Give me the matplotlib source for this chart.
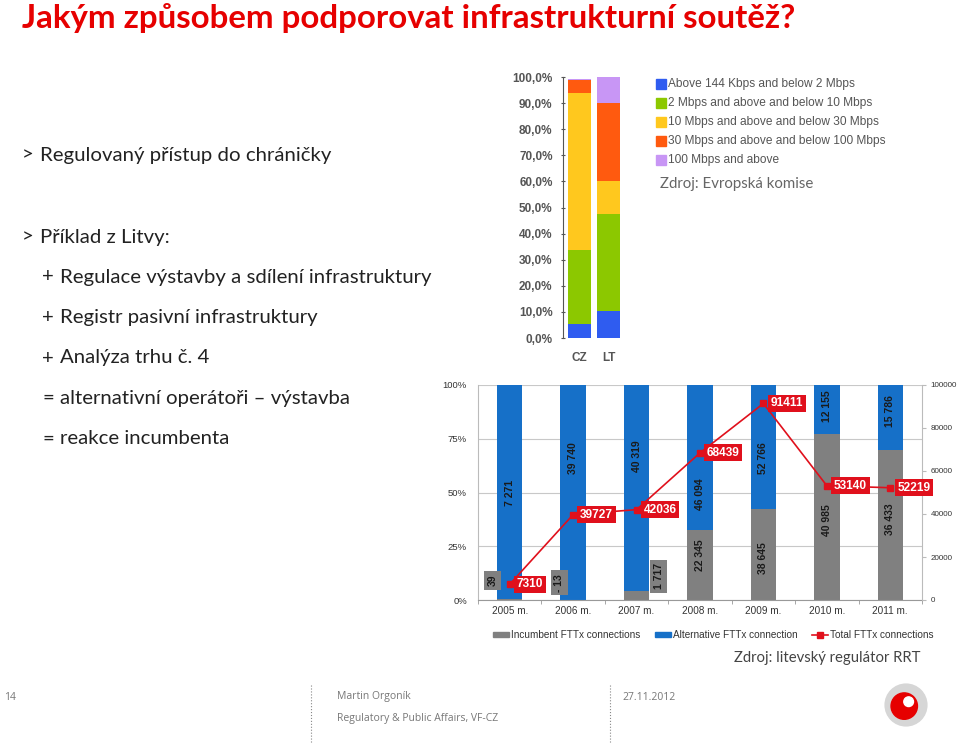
import numpy as np
import matplotlib.pyplot as plt
from matplotlib.lines import Line2D
from matplotlib.patches import Circle, Patch

# --- data: EU broadband speed shares (%), CZ / LT ---
countries = ["CZ", "LT"]
speed_bands = ["Above 144 Kbps and below 2 Mbps",
               "2 Mbps and above and below 10 Mbps",
               "10 Mbps and above and below 30 Mbps",
               "30 Mbps and above and below 100 Mbps",
               "100 Mbps and above"]
share_cz = [5.5, 28.2, 60.0, 5.2, 0.4]
share_lt = [10.2, 37.4, 12.5, 30.0, 9.9]
band_colors = ["#2f5cf0", "#8cc800", "#ffc81e", "#ff5a0f", "#c896f5"]

# --- data: Lithuania FTTx connections ---
years = ["2005 m.", "2006 m.", "2007 m.", "2008 m.", "2009 m.", "2010 m.", "2011 m."]
incumbent = [39, -13, 1717, 22345, 38645, 40985, 36433]
alternative = [7271, 39740, 40319, 46094, 52766, 12155, 15786]
total = [7310, 39727, 42036, 68439, 91411, 53140, 52219]

# label placement (share %, x offset) as in the slide
alt_label_y = [50, 66, 67, 49, 66, 90, 88]
inc_label_y = [9, 8, 11, 21, 19.5, 37, 37.7]
inc_label_dx = [-0.27, -0.22, 0.35, 0, 0, 0, 0]

W, H = 960, 744
fig = plt.figure(figsize=(9.6, 7.44), dpi=100)

def ax_at(x0, y0, x1, y1):
    return fig.add_axes([x0 / W, 1 - y1 / H, (x1 - x0) / W, (y1 - y0) / H])

def ftext(x, y, s, **kw):
    fig.text(x / W, 1 - y / H, s, **kw)

# ---------------- slide text ----------------
ftext(22, 18, "Jakým způsobem podporovat infrastrukturní soutěž?", fontsize=23.8,
      color="#e60000", fontweight="bold", family="Lato", va="center")

body = dict(fontsize=14.7, color="#222222", family="Lato", va="center")
ftext(22, 155, ">", **body)
ftext(40, 155, "Regulovaný přístup do chráničky", **body)
ftext(22, 237, ">", **body)
ftext(40, 237, "Příklad z Litvy:", **body)
lines = [("+", "Regulace výstavby a sdílení infrastruktury"),
         ("+", "Registr pasivní infrastruktury"),
         ("+", "Analýza trhu č. 4"),
         ("=", "alternativní operátoři – výstavba"),
         ("=", "reakce incumbenta")]
for k, (sym, s) in enumerate(lines):
    y = 277 + k * 40.5
    ftext(42, y, sym, **body)
    ftext(60, y, s, **body)

# ---------------- top chart (EU) ----------------
ax1 = ax_at(563, 77, 625, 338)
xc = np.arange(len(countries))
bottom = np.zeros(2)
for i in range(len(speed_bands)):
    vals = np.array([share_cz[i], share_lt[i]])
    ax1.bar(xc, vals, bottom=bottom, width=0.78, color=band_colors[i])
    bottom += vals
ax1.set_xlim(-0.55, 1.55)
ax1.set_ylim(0, 100)
ax1.set_yticks(np.arange(0, 101, 10))
ax1.set_yticklabels([f"{v},0%" for v in range(0, 101, 10)], fontsize=8.5,
                    color="#555555", fontweight="bold", family="Liberation Sans")
ax1.set_xticks(xc)
ax1.set_xticklabels(countries, fontsize=8.5, color="#555555", fontweight="bold",
                    family="Liberation Sans")
ax1.tick_params(axis="y", length=3, direction="inout", color="#555555", pad=6)
ax1.tick_params(axis="x", length=0, pad=10)
for sp in ["top", "right", "bottom"]:
    ax1.spines[sp].set_visible(False)
ax1.spines["left"].set_color("#555555")

for i, lab in enumerate(speed_bands):
    y = 84 + i * 19
    fig.patches.append(plt.Rectangle((656 / W, 1 - (y + 5) / H), 10 / W, 10 / H,
                                     transform=fig.transFigure, color=band_colors[i]))
    ftext(668, y, lab, fontsize=8.6, color="#555555", family="Liberation Sans", va="center")
ftext(660, 184, "Zdroj: Evropská komise", fontsize=10.8, color="#666666", family="Lato",
      va="center")

# ---------------- bottom chart (LT FTTx) ----------------
ax = ax_at(478, 385, 922, 600)
x = np.arange(len(years))
tot = np.array(total, dtype=float)
inc_pct = np.array(incumbent) / tot * 100
alt_pct = np.array(alternative) / tot * 100
ax.bar(x, inc_pct, width=0.4, color="#808080", zorder=2)
ax.bar(x, alt_pct, bottom=np.clip(inc_pct, 0, None), width=0.4, color="#1670c8", zorder=2)
ax.set_xlim(-0.5, 6.5)
ax.set_ylim(0, 100)
ax.set_yticks([0, 25, 50, 75, 100])
ax.set_yticklabels(["0%", "25%", "50%", "75%", "100%"], fontsize=6.8, color="#333333",
                   family="Liberation Sans")
ax.yaxis.grid(True, color="#c8c8c8", lw=0.8, zorder=0)
ax.set_xticks(x)
ax.set_xticklabels(years, fontsize=7.2, color="#333333", family="Liberation Sans")
ax.set_xticks(np.arange(-0.5, 7, 1), minor=True)
ax.tick_params(axis="x", which="major", length=0, pad=4)
ax.tick_params(axis="x", which="minor", length=3, color="#999999")
ax.tick_params(axis="y", length=0, pad=8)
for sp in ["top", "right"]:
    ax.spines[sp].set_visible(False)
ax.spines["left"].set_color("#bbbbbb")
ax.spines["bottom"].set_color("#999999")

def spaced(v):
    s = f"{abs(v):,}".replace(",", " ")
    return ("- " + s) if v < 0 else s

for i in range(len(years)):
    ax.text(x[i], alt_label_y[i], spaced(alternative[i]), rotation=90, ha="center",
            va="center", fontsize=7.5, fontweight="bold", color="#1a1a1a", zorder=4,
            family="Liberation Sans")
    box = None
    if inc_label_dx[i] != 0:
        box = dict(boxstyle="square,pad=0.35", fc="#808080", ec="none")
    ax.text(x[i] + inc_label_dx[i], inc_label_y[i], spaced(incumbent[i]), rotation=90,
            ha="center", va="center", fontsize=7.5, fontweight="bold", color="#1a1a1a",
            bbox=box, zorder=4, family="Liberation Sans")

ax2 = ax.twinx()
ax2.set_ylim(0, 100000)
ax2.set_yticks(np.arange(0, 100001, 20000))
ax2.set_yticklabels([str(v) for v in range(0, 100001, 20000)], fontsize=5.8,
                    color="#333333", family="Liberation Sans")
ax2.tick_params(axis="y", length=3, color="#bbbbbb", pad=3)
for sp in ["top", "left", "bottom"]:
    ax2.spines[sp].set_visible(False)
ax2.spines["right"].set_color("#bbbbbb")
ax2.plot(x, total, color="#e0101c", lw=1.2, marker="s", ms=5, zorder=5)
for i in range(len(years)):
    ax2.annotate(str(total[i]), (x[i], total[i]), xytext=(5, 0), textcoords="offset points",
                 ha="left", va="center", fontsize=8.6, fontweight="bold", color="white",
                 family="Liberation Sans",
                 bbox=dict(boxstyle="square,pad=0.22", fc="#e0101c", ec="none"), zorder=6)

handles = [Patch(color="#808080"), Patch(color="#1670c8"),
           Line2D([], [], color="#e0101c", marker="s", ms=5, lw=1.2)]
ax.legend(handles, ["Incumbent FTTx connections", "Alternative FTTx connection",
                    "Total FTTx connections"], ncol=3, loc="upper center",
          bbox_to_anchor=(0.53, -0.10), frameon=False, handlelength=1.6, handleheight=0.4,
          handletextpad=0.15, columnspacing=1.5,
          prop=dict(size=7.2, family="Liberation Sans"), labelcolor="#333333")

ftext(734, 658, "Zdroj: litevský regulátor RRT", fontsize=10.7, color="#444444",
      family="Lato", va="center")

# ---------------- footer ----------------
foot = dict(fontsize=7.5, color="#777777", family="Open Sans", va="center")
ftext(4, 697, "14", **foot)
ftext(337, 697, "Martin Orgoník", **foot)
ftext(337, 718, "Regulatory & Public Affairs, VF-CZ", **foot)
ftext(622, 697, "27.11.2012", **foot)
for xv in (311, 610):
    fig.add_artist(Line2D([xv / W, xv / W], [1 - 685 / H, 0], color="#888888", lw=0.8,
                          ls=":"))

# vodafone-ish logo
ax_logo = ax_at(884, 683, 928, 727)
ax_logo.set_xlim(-1, 1)
ax_logo.set_ylim(-1, 1)
ax_logo.set_aspect("equal")
ax_logo.axis("off")
ax_logo.add_patch(Circle((0, 0), 0.95, color="#d6d6d6"))
ax_logo.add_patch(Circle((-0.08, -0.05), 0.6, color="#e60000"))
ax_logo.add_patch(Circle((0.12, 0.15), 0.22, color="white"))

fig.savefig("out.png", dpi=100)
